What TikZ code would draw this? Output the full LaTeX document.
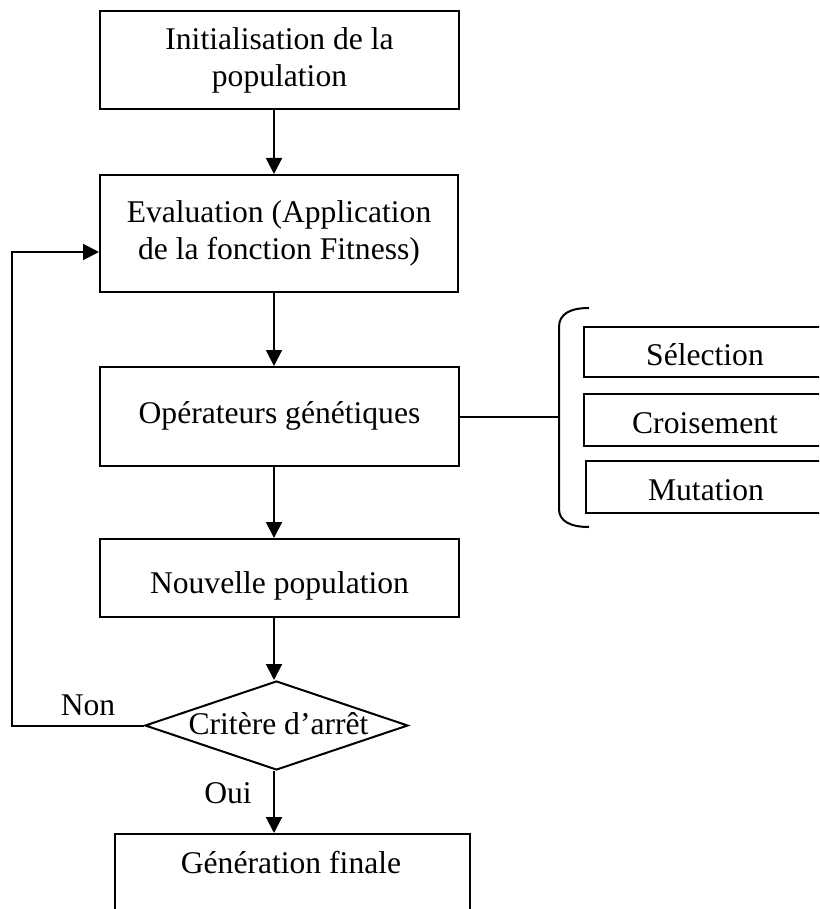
\documentclass[tikz,border=0pt]{standalone}
\usepackage{fontspec}
\setmainfont{Liberation Serif}
\usetikzlibrary{arrows.meta,shapes.geometric}

\begin{document}
\begin{tikzpicture}[x=1pt,y=-1pt,
  every node/.style={font=\fontsize{31.6}{37}\selectfont},
  box/.style={draw, line width=2pt, inner sep=0pt, align=center},
  th/.style={text height=#1, text depth=0pt},
  arr/.style={line width=2pt, -{Triangle[length=16pt,width=16pt]}},
  link/.style={line width=2pt}]
\useasboundingbox (0,0) rectangle (819,909);
\clip (0,0) rectangle (819,909);

% main flow
\node[box, minimum width=359pt, minimum height=98pt] (init) at (279.5,60)
  {Initialisation de la\\population};
\node[box, minimum width=358pt, minimum height=117pt] (eval) at (279,233.5)
  {Evaluation (Application\\de la fonction Fitness)};
\node[box, th=13pt, minimum width=359pt, minimum height=99pt] (opgen) at (279.5,416.5)
  {Opérateurs génétiques};
\node[box, th=30pt, minimum width=359pt, minimum height=78pt] (newpop) at (279.5,578)
  {Nouvelle population};
\node[diamond, draw, line width=2pt, inner sep=0pt, th=17pt,
      minimum width=263pt, minimum height=89pt] (crit) at (276.5,725.5)
  {\makebox[0pt]{\hspace{4pt}Critère d’arrêt}};
\node[box, minimum width=355pt, minimum height=150pt, anchor=north] (final) at (292.5,833) {};
\node[anchor=base] (finaltxt) at (291,873) {Génération finale};

% genetic operators
\node[box, th=26pt, minimum width=242pt, minimum height=50pt] (sel) at (705,352) {Sélection};
\node[box, th=26pt, minimum width=242pt, minimum height=52pt] (cross) at (705,420) {Croisement};
\node[box, th=26pt, minimum width=240pt, minimum height=52pt] (mut) at (706,487) {Mutation};

% decision labels
\node[anchor=base] (non) at (88,715) {Non};
\node[anchor=base] (oui) at (228,803) {Oui};

% connectors
\coordinate (spine) at (274,0);
\coordinate (fb) at (12,252);
\coordinate (bracemid) at (559,417);
\draw[arr] (init.south -| spine) -- (eval.north -| spine);
\draw[arr] (eval.south -| spine) -- (opgen.north -| spine);
\draw[arr] (opgen.south -| spine) -- (newpop.north -| spine);
\draw[arr] (newpop.south -| spine) -- (crit.north -| spine);
\draw[arr] (crit.south -| spine) -- (final.north -| spine);
\draw[arr] (crit.west) -| (fb) -- (fb -| eval.west);
\draw[link] (opgen.east) -- (opgen.east -| bracemid);

% bracket grouping the operators
\draw[link] (589,308) .. controls (570,308) and (559,314) .. (559,327)
  -- (559,509) .. controls (559,521) and (570,527) .. (589,527);
\end{tikzpicture}
\end{document}
